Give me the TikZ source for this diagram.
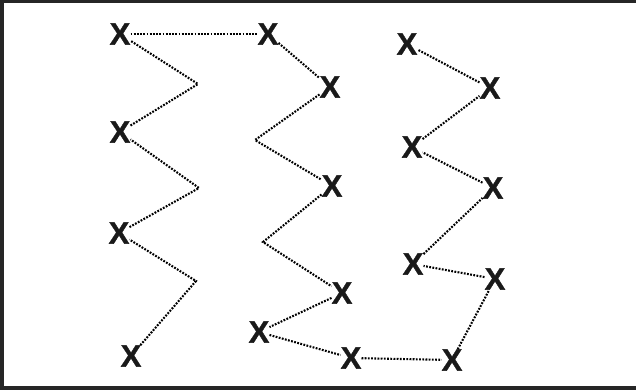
\documentclass[tikz,border=0pt]{standalone}
\usepackage{fontspec}
\setmainfont{Liberation Sans}
\newfontfamily\xfont{Liberation Sans Bold}[FakeBold=1.2]
\begin{document}
\begin{tikzpicture}[x=1bp,y=-1bp,
  xmark/.style={font=\xfont\fontsize{31}{31}\selectfont, inner sep=0pt, text=black!90},
  dots/.style={draw=black, line width=2.1bp, dash pattern=on 1.8bp off 1.4bp}]
\useasboundingbox (0,0) rectangle (636,390);
\fill[black!85] (0,0) rectangle (636,3);
\fill[black!85] (0,0) rectangle (3.5,390);
\fill[black!85] (0,386) rectangle (636,390);
% marks
\node[xmark] (a1) at (120,34) {X};
\node[xmark] (a2) at (120,132) {X};
\node[xmark] (a3) at (119,233) {X};
\node[xmark] (a4) at (131,356) {X};
\node[xmark] (b1) at (268,34) {X};
\node[xmark] (b2) at (330,87) {X};
\node[xmark] (b3) at (332,186) {X};
\node[xmark] (b4) at (342,293) {X};
\node[xmark] (b5) at (259,332) {X};
\node[xmark] (b6) at (351,358) {X};
\node[xmark] (c7) at (452,360) {X};
\node[xmark] (c1) at (407,44) {X};
\node[xmark] (c2) at (490,88) {X};
\node[xmark] (c3) at (412,147) {X};
\node[xmark] (c4) at (493,188) {X};
\node[xmark] (c5) at (413,264) {X};
\node[xmark] (c6) at (495,279) {X};
% bends
\coordinate (v1) at (198,84);
\coordinate (v2) at (199,188);
\coordinate (v3) at (196,281);
\coordinate (w1) at (255,140);
\coordinate (w2) at (263,242);
% path
\draw[dots] (a4) -- (v3) -- (a3);
\draw[dots] (a3) -- (v2) -- (a2);
\draw[dots] (a2) -- (v1) -- (a1);
\draw[dots] (a1) -- (b1);
\draw[dots] (b1) -- (b2);
\draw[dots] (b2) -- (w1) -- (b3);
\draw[dots] (b3) -- (w2) -- (b4);
\draw[dots] (b4) -- (b5);
\draw[dots] (b5) -- (b6);
\draw[dots] (b6) -- (c7);
\draw[dots] (c7) -- (c6);
\draw[dots] (c6) -- (c5);
\draw[dots] (c5) -- (c4);
\draw[dots] (c4) -- (c3);
\draw[dots] (c3) -- (c2);
\draw[dots] (c2) -- (c1);
\end{tikzpicture}
\end{document}
